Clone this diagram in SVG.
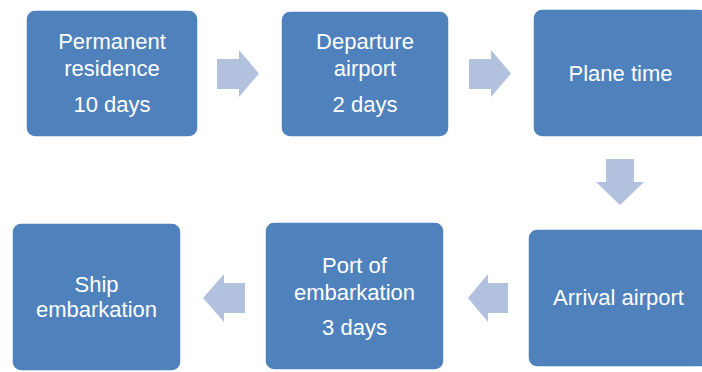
<svg xmlns="http://www.w3.org/2000/svg" width="702" height="372" viewBox="0 0 702 372">
<style>
.box{fill:#4F81BD;stroke:#FFFFFF;stroke-width:1.5}
.arr{fill:#B2C1DE}
text{font-family:"Liberation Sans",Arial,sans-serif;font-size:22px;fill:#FFFFFF;text-anchor:middle}
</style>
<rect width="702" height="372" fill="#FFFFFF"/>
<g id="connectors">
<polygon class="arr" points="217,59 239,59 239,50 259,73.5 239,97 239,89 217,89"/>
<polygon class="arr" points="469,59 491,59 491,50 511,73.5 491,97 491,89 469,89"/>
<polygon class="arr" points="606,159 634,159 634,182 644,182 620,205 596,182 606,182"/>
<polygon class="arr" points="508,283 488,283 488,274 468,298 488,322 488,313 508,313"/>
<polygon class="arr" points="245,283 224,283 224,274 203,298 224,322 224,313 245,313"/>
</g>
<g id="n1">
<rect class="box" x="26" y="10" width="172" height="127" rx="9"/>
<text x="112" y="49">Permanent</text>
<text x="112" y="76">residence</text>
<text x="112" y="112">10 days</text>
</g>
<g id="n2">
<rect class="box" x="281" y="11" width="168" height="126" rx="9"/>
<text x="365" y="49">Departure</text>
<text x="365" y="76">airport</text>
<text x="365" y="112">2 days</text>
</g>
<g id="n3">
<rect class="box" x="533" y="9" width="175" height="128" rx="9"/>
<text x="620.5" y="81">Plane time</text>
</g>
<g id="n4">
<rect class="box" x="528" y="229" width="181" height="138" rx="9"/>
<text x="618.5" y="305">Arrival airport</text>
</g>
<g id="n5">
<rect class="box" x="265" y="222" width="179" height="148" rx="9"/>
<text x="354.5" y="273">Port of</text>
<text x="354.5" y="300">embarkation</text>
<text x="354.5" y="335">3 days</text>
</g>
<g id="n6">
<rect class="box" x="12" y="223" width="169" height="148" rx="9"/>
<text x="96.5" y="292">Ship</text>
<text x="96.5" y="317">embarkation</text>
</g>
</svg>
